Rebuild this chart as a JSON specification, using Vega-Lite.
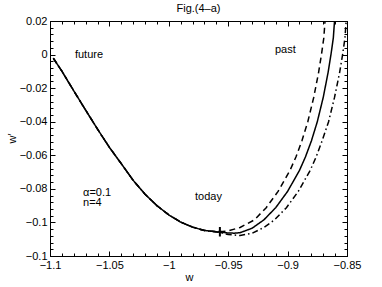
{
  "$schema": "https://vega.github.io/schema/vega-lite/v6.json",
  "width": 297,
  "height": 235,
  "autosize": {"type": "none"},
  "padding": {"left": 50, "top": 21, "right": 35, "bottom": 31},
  "background": "white",
  "title": {"text": "Fig.(4–a)", "font": "Liberation Sans", "fontSize": 11, "fontWeight": "normal", "color": "black", "offset": 1},
  "config": {
    "view": {"stroke": "black", "strokeWidth": 1},
    "axis": {"grid": false, "domain": false, "labelFont": "Liberation Sans", "labelFontSize": 11, "labelColor": "black", "labelOverlap": false, "titleFont": "Liberation Sans", "titleFontSize": 11, "titleFontWeight": "normal", "titleColor": "black", "tickColor": "black", "tickWidth": 1}
  },
  "datasets": {
    "curves": [
      {"s": "solid", "x": -1.0972, "y": -0.0022}, {"s": "solid", "x": -1.09, "y": -0.0099}, {"s": "solid", "x": -1.08, "y": -0.0216}, {"s": "solid", "x": -1.07, "y": -0.0331}, {"s": "solid", "x": -1.06, "y": -0.0444}, {"s": "solid", "x": -1.05, "y": -0.0553}, {"s": "solid", "x": -1.04, "y": -0.065}, {"s": "solid", "x": -1.03, "y": -0.0749}, {"s": "solid", "x": -1.02, "y": -0.0832}, {"s": "solid", "x": -1.01, "y": -0.09}, {"s": "solid", "x": -1.0, "y": -0.0955}, {"s": "solid", "x": -0.99, "y": -0.0998}, {"s": "solid", "x": -0.98, "y": -0.1028}, {"s": "solid", "x": -0.97, "y": -0.1048}, {"s": "solid", "x": -0.957, "y": -0.1058},
      {"s": "solid", "x": -0.95, "y": -0.1063}, {"s": "solid", "x": -0.945, "y": -0.1064}, {"s": "solid", "x": -0.94, "y": -0.1061}, {"s": "solid", "x": -0.93, "y": -0.1035}, {"s": "solid", "x": -0.92, "y": -0.0985}, {"s": "solid", "x": -0.91, "y": -0.0912}, {"s": "solid", "x": -0.9, "y": -0.0815}, {"s": "solid", "x": -0.89, "y": -0.069}, {"s": "solid", "x": -0.885, "y": -0.061}, {"s": "solid", "x": -0.88, "y": -0.0515}, {"s": "solid", "x": -0.875, "y": -0.04}, {"s": "solid", "x": -0.87, "y": -0.0255}, {"s": "solid", "x": -0.866, "y": -0.011}, {"s": "solid", "x": -0.8635, "y": 0.0}, {"s": "solid", "x": -0.8615, "y": 0.01}, {"s": "solid", "x": -0.8605, "y": 0.02},
      {"s": "dashed", "x": -1.0972, "y": -0.0022}, {"s": "dashed", "x": -1.09, "y": -0.0099}, {"s": "dashed", "x": -1.08, "y": -0.0216}, {"s": "dashed", "x": -1.07, "y": -0.0331}, {"s": "dashed", "x": -1.06, "y": -0.0444}, {"s": "dashed", "x": -1.05, "y": -0.0553}, {"s": "dashed", "x": -1.04, "y": -0.065}, {"s": "dashed", "x": -1.03, "y": -0.0749}, {"s": "dashed", "x": -1.02, "y": -0.0832}, {"s": "dashed", "x": -1.01, "y": -0.09}, {"s": "dashed", "x": -1.0, "y": -0.0955}, {"s": "dashed", "x": -0.99, "y": -0.0998}, {"s": "dashed", "x": -0.98, "y": -0.1028}, {"s": "dashed", "x": -0.97, "y": -0.1048}, {"s": "dashed", "x": -0.957, "y": -0.1056},
      {"s": "dashed", "x": -0.95, "y": -0.105}, {"s": "dashed", "x": -0.94, "y": -0.103}, {"s": "dashed", "x": -0.928, "y": -0.0985}, {"s": "dashed", "x": -0.918, "y": -0.0912}, {"s": "dashed", "x": -0.908, "y": -0.0815}, {"s": "dashed", "x": -0.898, "y": -0.069}, {"s": "dashed", "x": -0.893, "y": -0.061}, {"s": "dashed", "x": -0.888, "y": -0.0515}, {"s": "dashed", "x": -0.883, "y": -0.04}, {"s": "dashed", "x": -0.878, "y": -0.0255}, {"s": "dashed", "x": -0.874, "y": -0.011}, {"s": "dashed", "x": -0.8715, "y": 0.0}, {"s": "dashed", "x": -0.8695, "y": 0.01}, {"s": "dashed", "x": -0.8685, "y": 0.02},
      {"s": "dashdot", "x": -1.0972, "y": -0.0022}, {"s": "dashdot", "x": -1.09, "y": -0.0099}, {"s": "dashdot", "x": -1.08, "y": -0.0216}, {"s": "dashdot", "x": -1.07, "y": -0.0331}, {"s": "dashdot", "x": -1.06, "y": -0.0444}, {"s": "dashdot", "x": -1.05, "y": -0.0553}, {"s": "dashdot", "x": -1.04, "y": -0.065}, {"s": "dashdot", "x": -1.03, "y": -0.0749}, {"s": "dashdot", "x": -1.02, "y": -0.0832}, {"s": "dashdot", "x": -1.01, "y": -0.09}, {"s": "dashdot", "x": -1.0, "y": -0.0955}, {"s": "dashdot", "x": -0.99, "y": -0.0998}, {"s": "dashdot", "x": -0.98, "y": -0.1028}, {"s": "dashdot", "x": -0.97, "y": -0.1048}, {"s": "dashdot", "x": -0.957, "y": -0.106},
      {"s": "dashdot", "x": -0.95, "y": -0.1072}, {"s": "dashdot", "x": -0.94, "y": -0.1078}, {"s": "dashdot", "x": -0.93, "y": -0.1065}, {"s": "dashdot", "x": -0.92, "y": -0.103}, {"s": "dashdot", "x": -0.911, "y": -0.0985}, {"s": "dashdot", "x": -0.901, "y": -0.0912}, {"s": "dashdot", "x": -0.891, "y": -0.0815}, {"s": "dashdot", "x": -0.881, "y": -0.069}, {"s": "dashdot", "x": -0.876, "y": -0.061}, {"s": "dashdot", "x": -0.871, "y": -0.0515}, {"s": "dashdot", "x": -0.8655, "y": -0.04}, {"s": "dashdot", "x": -0.8605, "y": -0.0255}, {"s": "dashdot", "x": -0.8563, "y": -0.011}, {"s": "dashdot", "x": -0.8537, "y": 0.0}, {"s": "dashdot", "x": -0.8517, "y": 0.01}, {"s": "dashdot", "x": -0.8507, "y": 0.02}
    ],
    "marker": [{"x": -0.957, "y": -0.1056}],
    "notes": [
      {"t": "future", "x": -1.079, "y": -0.0003},
      {"t": "past", "x": -0.9106, "y": 0.0027},
      {"t": "today", "x": -0.9779, "y": -0.0849},
      {"t": "α=0.1", "x": -1.0722, "y": -0.0822},
      {"t": "n=4", "x": -1.0722, "y": -0.0885}
    ]
  },
  "resolve": {"axis": {"x": "independent", "y": "independent"}},
  "layer": [
    {
      "data": {"name": "curves"},
      "mark": {"type": "line", "color": "black", "strokeWidth": 1.5, "clip": true},
      "encoding": {
        "x": {"field": "x", "type": "quantitative", "scale": {"domain": [-1.1, -0.85], "nice": false, "zero": false},
              "axis": {"orient": "bottom", "values": [-1.1, -1.05, -1, -0.95, -0.9, -0.85], "format": "~g", "ticks": false, "labelPadding": 3, "labelFlush": false, "title": "w", "titleX": 139, "titleY": 24, "titleBaseline": "alphabetic"}},
        "y": {"field": "y", "type": "quantitative", "scale": {"domain": [-0.12, 0.02], "nice": false, "zero": false},
              "axis": {"orient": "left", "values": [-0.12, -0.1, -0.08, -0.06, -0.04, -0.02, 0, 0.02], "format": "~g", "ticks": false, "labelPadding": 3, "labelFlush": false, "title": "w′", "titleX": -35, "titleY": 117, "titleAngle": -90, "titleAlign": "center", "titleBaseline": "alphabetic"}},
        "strokeDash": {"field": "s", "type": "nominal", "scale": {"domain": ["solid", "dashed", "dashdot"], "range": [[1, 0], [6, 4], [6, 3, 1.5, 3]]}, "legend": null}
      }
    },
    {
      "data": {"name": "marker"},
      "mark": {"type": "point", "shape": "M-0.35,0H0.35M0,-1V1", "size": 90, "stroke": "black", "strokeWidth": 2, "filled": false, "opacity": 1},
      "encoding": {
        "x": {"field": "x", "type": "quantitative", "scale": {"domain": [-1.1, -0.85], "nice": false, "zero": false},
              "axis": {"orient": "bottom", "values": [-1.1, -1.05, -1, -0.95, -0.9, -0.85], "labels": false, "tickSize": -5, "title": null}},
        "y": {"field": "y", "type": "quantitative", "scale": {"domain": [-0.12, 0.02], "nice": false, "zero": false},
              "axis": {"orient": "left", "values": [-0.12, -0.1, -0.08, -0.06, -0.04, -0.02, 0, 0.02], "labels": false, "tickSize": -5, "title": null}}
      }
    },
    {
      "data": {"name": "marker"},
      "mark": {"type": "point", "opacity": 0},
      "encoding": {
        "x": {"field": "x", "type": "quantitative", "scale": {"domain": [-1.1, -0.85], "nice": false, "zero": false},
              "axis": {"orient": "bottom", "values": [-1.1, -1.09, -1.08, -1.07, -1.06, -1.05, -1.04, -1.03, -1.02, -1.01, -1, -0.99, -0.98, -0.97, -0.96, -0.95, -0.94, -0.93, -0.92, -0.91, -0.9, -0.89, -0.88, -0.87, -0.86, -0.85], "labels": false, "tickSize": -3, "title": null}},
        "y": {"field": "y", "type": "quantitative", "scale": {"domain": [-0.12, 0.02], "nice": false, "zero": false},
              "axis": {"orient": "left", "values": [-0.12, -0.116, -0.112, -0.108, -0.104, -0.1, -0.096, -0.092, -0.088, -0.084, -0.08, -0.076, -0.072, -0.068, -0.064, -0.06, -0.056, -0.052, -0.048, -0.044, -0.04, -0.036, -0.032, -0.028, -0.024, -0.02, -0.016, -0.012, -0.008, -0.004, 0, 0.004, 0.008, 0.012, 0.016, 0.02], "labels": false, "tickSize": -3, "title": null}}
      }
    },
    {
      "data": {"name": "marker"},
      "mark": {"type": "point", "opacity": 0},
      "encoding": {
        "x": {"field": "x", "type": "quantitative", "scale": {"domain": [-1.1, -0.85], "nice": false, "zero": false},
              "axis": {"orient": "top", "values": [-1.1, -1.05, -1, -0.95, -0.9, -0.85], "labels": false, "tickSize": -5, "title": null}},
        "y": {"field": "y", "type": "quantitative", "scale": {"domain": [-0.12, 0.02], "nice": false, "zero": false},
              "axis": {"orient": "right", "values": [-0.12, -0.1, -0.08, -0.06, -0.04, -0.02, 0, 0.02], "labels": false, "tickSize": -5, "title": null}}
      }
    },
    {
      "data": {"name": "marker"},
      "mark": {"type": "point", "opacity": 0},
      "encoding": {
        "x": {"field": "x", "type": "quantitative", "scale": {"domain": [-1.1, -0.85], "nice": false, "zero": false},
              "axis": {"orient": "top", "values": [-1.1, -1.09, -1.08, -1.07, -1.06, -1.05, -1.04, -1.03, -1.02, -1.01, -1, -0.99, -0.98, -0.97, -0.96, -0.95, -0.94, -0.93, -0.92, -0.91, -0.9, -0.89, -0.88, -0.87, -0.86, -0.85], "labels": false, "tickSize": -3, "title": null}},
        "y": {"field": "y", "type": "quantitative", "scale": {"domain": [-0.12, 0.02], "nice": false, "zero": false},
              "axis": {"orient": "right", "values": [-0.12, -0.116, -0.112, -0.108, -0.104, -0.1, -0.096, -0.092, -0.088, -0.084, -0.08, -0.076, -0.072, -0.068, -0.064, -0.06, -0.056, -0.052, -0.048, -0.044, -0.04, -0.036, -0.032, -0.028, -0.024, -0.02, -0.016, -0.012, -0.008, -0.004, 0, 0.004, 0.008, 0.012, 0.016, 0.02], "labels": false, "tickSize": -3, "title": null}}
      }
    },
    {
      "data": {"name": "notes"},
      "mark": {"type": "text", "align": "left", "baseline": "middle", "font": "Liberation Sans", "fontSize": 11, "color": "black"},
      "encoding": {
        "x": {"field": "x", "type": "quantitative", "scale": {"domain": [-1.1, -0.85], "nice": false, "zero": false}, "axis": null},
        "y": {"field": "y", "type": "quantitative", "scale": {"domain": [-0.12, 0.02], "nice": false, "zero": false}, "axis": null},
        "text": {"field": "t", "type": "nominal"}
      }
    }
  ]
}
